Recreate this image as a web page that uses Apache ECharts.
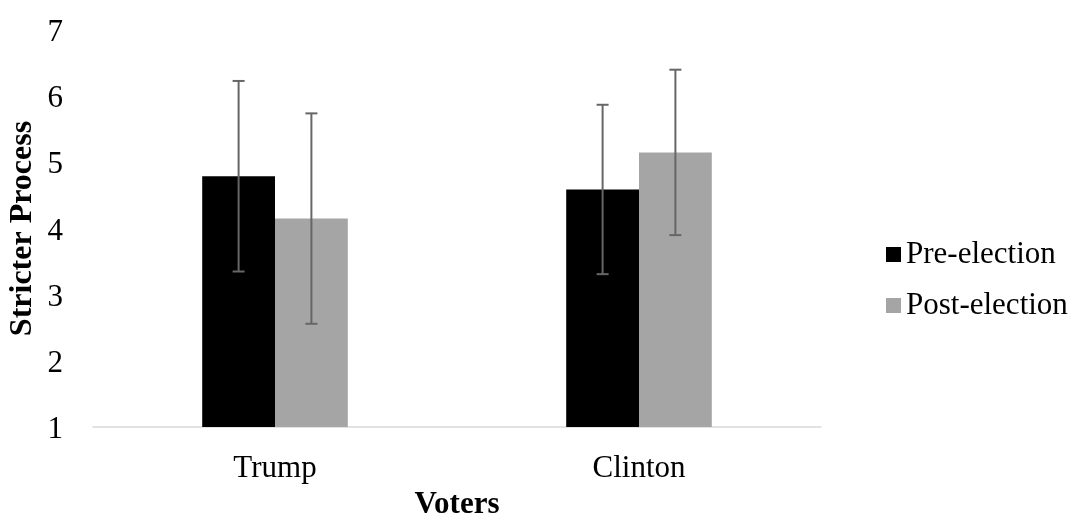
<!DOCTYPE html>
<html>
<head>
<meta charset="utf-8">
<script src="https://cdn.jsdelivr.net/npm/echarts@6/dist/echarts.min.js"></script>
<style>
  html, body { margin: 0; padding: 0; background: #fff; }
  #chart { width: 1076px; height: 522px; }
</style>
</head>
<body>
<div id="chart"></div>
<script>
// values
var categories = ['Trump', 'Clinton'];
var preMeans = [4.79, 4.59];
var postMeans = [4.15, 5.15];
var preErr = [1.44, 1.28];
var postErr = [1.59, 1.25];
var yTicks = [1, 2, 3, 4, 5, 6, 7];

var fontFamily = '"Liberation Serif", "Times New Roman", serif';
var barGapRatio = 0.6; // barCategoryGap

function errData(means, errs) {
  return means.map(function (m, i) {
    return [i, m - errs[i], m + errs[i]];
  });
}

function errRender(side) {
  return function (params, api) {
    var idx = api.value(0);
    var lowPt = api.coord([idx, api.value(1)]);
    var highPt = api.coord([idx, api.value(2)]);
    var band = api.size([1, 0])[0];
    var barW = band * (1 - barGapRatio) / 2;
    var x = lowPt[0] + side * barW / 2;
    var cap = 6;
    var style = { stroke: '#666666', lineWidth: 2 };
    return {
      type: 'group',
      children: [
        { type: 'line', shape: { x1: x, y1: highPt[1], x2: x, y2: lowPt[1] }, style: style },
        { type: 'line', shape: { x1: x - cap, y1: highPt[1], x2: x + cap, y2: highPt[1] }, style: style },
        { type: 'line', shape: { x1: x - cap, y1: lowPt[1], x2: x + cap, y2: lowPt[1] }, style: style }
      ]
    };
  };
}

var chart = echarts.init(document.getElementById('chart'));
var option = {
  animation: false,
  textStyle: { fontFamily: fontFamily },
  grid: { left: 93, right: 255, top: 30, bottom: 95, containLabel: false, outerBoundsMode: 'none' },
  legend: {
    orient: 'vertical',
    left: 881,
    top: 234,
    itemWidth: 15,
    itemHeight: 15,
    itemGap: 20,
    icon: 'rect',
    textStyle: { fontFamily: fontFamily, fontSize: 31, color: '#000' },
    data: ['Pre-election', 'Post-election']
  },
  xAxis: {
    type: 'category',
    data: categories,
    name: 'Voters',
    nameLocation: 'middle',
    nameGap: 62,
    nameMoveOverlap: false,
    nameTextStyle: { fontFamily: fontFamily, fontSize: 31, fontWeight: 'bold', color: '#000' },
    axisLine: { lineStyle: { color: '#d9d9d9', width: 1.5 } },
    axisTick: { show: false },
    axisLabel: { fontFamily: fontFamily, fontSize: 31, color: '#000', margin: 26 }
  },
  yAxis: {
    type: 'value',
    min: yTicks[0],
    max: yTicks[yTicks.length - 1],
    interval: 1,
    name: 'Stricter Process',
    nameLocation: 'middle',
    nameGap: 54,
    nameMoveOverlap: false,
    nameTextStyle: { fontFamily: fontFamily, fontSize: 32, fontWeight: 'bold', color: '#000' },
    axisLine: { show: false },
    axisTick: { show: false },
    splitLine: { show: false },
    axisLabel: {
      margin: 30,
      formatter: '{v|{value}}',
      rich: { v: { fontFamily: fontFamily, fontSize: 31, color: '#000', padding: [6, 0, 0, 0] } }
    }
  },
  series: [
    {
      name: 'Pre-election',
      type: 'bar',
      data: preMeans,
      barGap: 0,
      barCategoryGap: '60%',
      itemStyle: { color: '#000000' }
    },
    {
      name: 'Post-election',
      type: 'bar',
      data: postMeans,
      barGap: 0,
      barCategoryGap: '60%',
      itemStyle: { color: '#a5a5a5' }
    },
    {
      type: 'custom',
      renderItem: errRender(-1),
      data: errData(preMeans, preErr),
      z: 5
    },
    {
      type: 'custom',
      renderItem: errRender(1),
      data: errData(postMeans, postErr),
      z: 5
    }
  ]
};
chart.setOption(option);
</script>
</body>
</html>
